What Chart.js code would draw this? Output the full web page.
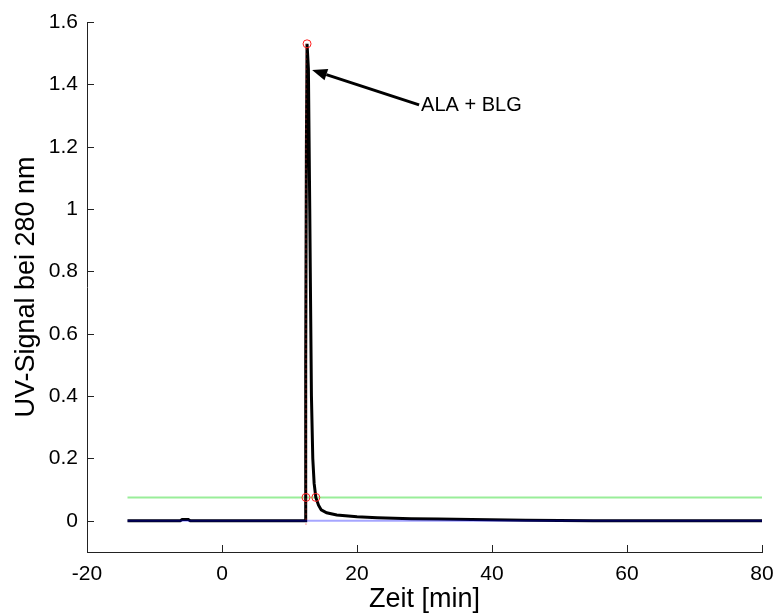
<!DOCTYPE html>
<html>
<head>
<meta charset="utf-8">
<script src="https://cdn.jsdelivr.net/npm/chart.js@4"></script>
<style>
  html, body { margin: 0; padding: 0; background: #fff; }
  #wrap { width: 777px; height: 616px; }
</style>
</head>
<body>
<div id="wrap"><canvas id="uv-chart"></canvas></div>
<script>
// Chromatogramm: UV-Signal (280 nm) über Zeit
const timeMin = [-14, -6.2, -5.9, -5.0, -4.7, 12.3, 12.4, 12.5, 12.6, 12.8, 13.0, 13.1, 13.25, 13.45, 13.65, 13.9, 14.3, 14.7, 15.5, 17, 20, 23, 28, 32, 37, 45, 50, 55, 80];
const uvSignal = [0, 0, 0.004, 0.004, 0, 0, 0.5, 1.2, 1.53, 1.45, 1.0, 0.75, 0.4, 0.2, 0.12, 0.075, 0.05, 0.035, 0.026, 0.019, 0.013, 0.01, 0.007, 0.006, 0.004, 0.002, 0.001, 0, 0];

const baselineX = [-14, 80];
const baselineY = [0, 0];
const thresholdY = [0.075, 0.075];

const peakLineX = [12.44, 12.44];
const peakLineY = [-0.012, 1.53];

const markerX = [12.6, 12.44, 13.9];
const markerY = [1.53, 0.075, 0.075];

const xTicks = [-20, 0, 20, 40, 60, 80];
const yTicks = [0, 0.2, 0.4, 0.6, 0.8, 1, 1.2, 1.4, 1.6];

const labelText = 'ALA + BLG';
const arrowTip = { x: 13.35, y: 1.446 };
const arrowTail = { x: 29.2, y: 1.334 };

const FONT = "'Liberation Sans', Arial, sans-serif";
Chart.defaults.font.family = FONT;
Chart.defaults.color = '#000';

const toPoints = (xs, ys) => xs.map((x, i) => ({ x, y: ys[i] }));

const innerTicks = {
  id: 'innerTicks',
  afterDatasetsDraw(chart) {
    const { ctx, chartArea: a, scales: { x, y } } = chart;
    ctx.save();
    ctx.strokeStyle = '#222';
    ctx.lineWidth = 1;
    ctx.beginPath();
    xTicks.forEach((v) => {
      const px = Math.round(x.getPixelForValue(v)) + 0.5;
      ctx.moveTo(px, a.bottom);
      ctx.lineTo(px, a.bottom - 7);
    });
    yTicks.forEach((v) => {
      const py = Math.round(y.getPixelForValue(v)) + 0.5;
      ctx.moveTo(a.left, py);
      ctx.lineTo(a.left + 7, py);
    });
    ctx.stroke();

    // Pfeil + Beschriftung
    const tx = x.getPixelForValue(arrowTip.x), ty = y.getPixelForValue(arrowTip.y);
    const sx = x.getPixelForValue(arrowTail.x), sy = y.getPixelForValue(arrowTail.y);
    const ang = Math.atan2(ty - sy, tx - sx);
    const headLen = 15, headW = 6;
    const bx = tx - headLen * Math.cos(ang), by = ty - headLen * Math.sin(ang);
    ctx.strokeStyle = '#000';
    ctx.lineWidth = 3;
    ctx.beginPath();
    ctx.moveTo(sx, sy);
    ctx.lineTo(bx, by);
    ctx.stroke();
    ctx.fillStyle = '#000';
    ctx.beginPath();
    ctx.moveTo(tx, ty);
    ctx.lineTo(bx + headW * Math.sin(ang), by - headW * Math.cos(ang));
    ctx.lineTo(bx - headW * Math.sin(ang), by + headW * Math.cos(ang));
    ctx.closePath();
    ctx.fill();

    ctx.font = '20px ' + FONT;
    ctx.textAlign = 'left';
    ctx.textBaseline = 'middle';
    ctx.fillText(labelText, sx + 2, sy + 1);
    ctx.restore();
  },
};

new Chart(document.getElementById('uv-chart'), {
  type: 'scatter',
  data: {
    datasets: [
      {
        label: 'Schwelle',
        data: toPoints(baselineX, thresholdY),
        showLine: true,
        borderColor: '#99ee99',
        borderWidth: 2,
        pointRadius: 0,
        order: 5,
      },
      {
        label: 'UV-Signal',
        data: toPoints(timeMin, uvSignal),
        showLine: true,
        borderColor: '#000',
        borderWidth: 3,
        pointRadius: 0,
        tension: 0,
        order: 4,
      },
      {
        label: 'Basislinie',
        data: toPoints(baselineX, baselineY),
        showLine: true,
        borderColor: 'rgba(0,0,255,0.35)',
        borderWidth: 2,
        pointRadius: 0,
        order: 3,
      },
      {
        label: 'Peak',
        data: toPoints(peakLineX, peakLineY),
        showLine: true,
        borderColor: '#ff3030',
        borderWidth: 1,
        borderDash: [1, 4],
        pointRadius: 0,
        order: 2,
      },
      {
        label: 'Marker',
        data: toPoints(markerX, markerY),
        showLine: false,
        pointStyle: 'circle',
        pointRadius: 4,
        borderColor: '#ff2020',
        backgroundColor: 'rgba(0,0,0,0)',
        borderWidth: 1,
        order: 1,
      },
    ],
  },
  options: {
    responsive: true,
    maintainAspectRatio: false,
    animation: false,
    layout: { padding: { left: 0, right: 15, top: 22, bottom: 0 } },
    plugins: { legend: { display: false }, tooltip: { enabled: false } },
    scales: {
      x: {
        type: 'linear',
        min: -20,
        max: 80,
        afterBuildTicks: (s) => { s.ticks = xTicks.map((v) => ({ value: v })); },
        afterFit: (s) => { s.height = 64; s.paddingLeft = 0; s.paddingRight = 0; },
        grid: { display: false, drawTicks: false },
        border: { display: true, color: '#222', width: 1 },
        ticks: { font: { size: 21 }, color: '#000', padding: 10, maxRotation: 0, callback: (v) => String(v) },
        title: { display: true, text: 'Zeit [min]', font: { size: 27 }, color: '#000', padding: { top: 0, bottom: 0 } },
      },
      y: {
        type: 'linear',
        min: -0.1,
        max: 1.6,
        afterBuildTicks: (s) => { s.ticks = yTicks.map((v) => ({ value: v })); },
        afterFit: (s) => { s.width = 87; s.paddingTop = 0; s.paddingBottom = 0; },
        grid: { display: false, drawTicks: false },
        border: { display: true, color: '#222', width: 1 },
        ticks: { font: { size: 21 }, color: '#000', padding: 9, callback: (v) => String(Math.round(v * 10) / 10) },
        title: { display: true, text: 'UV-Signal bei 280 nm', font: { size: 27 }, color: '#000', padding: { top: 10, bottom: 0 } },
      },
    },
  },
  plugins: [innerTicks],
});
</script>
</body>
</html>
